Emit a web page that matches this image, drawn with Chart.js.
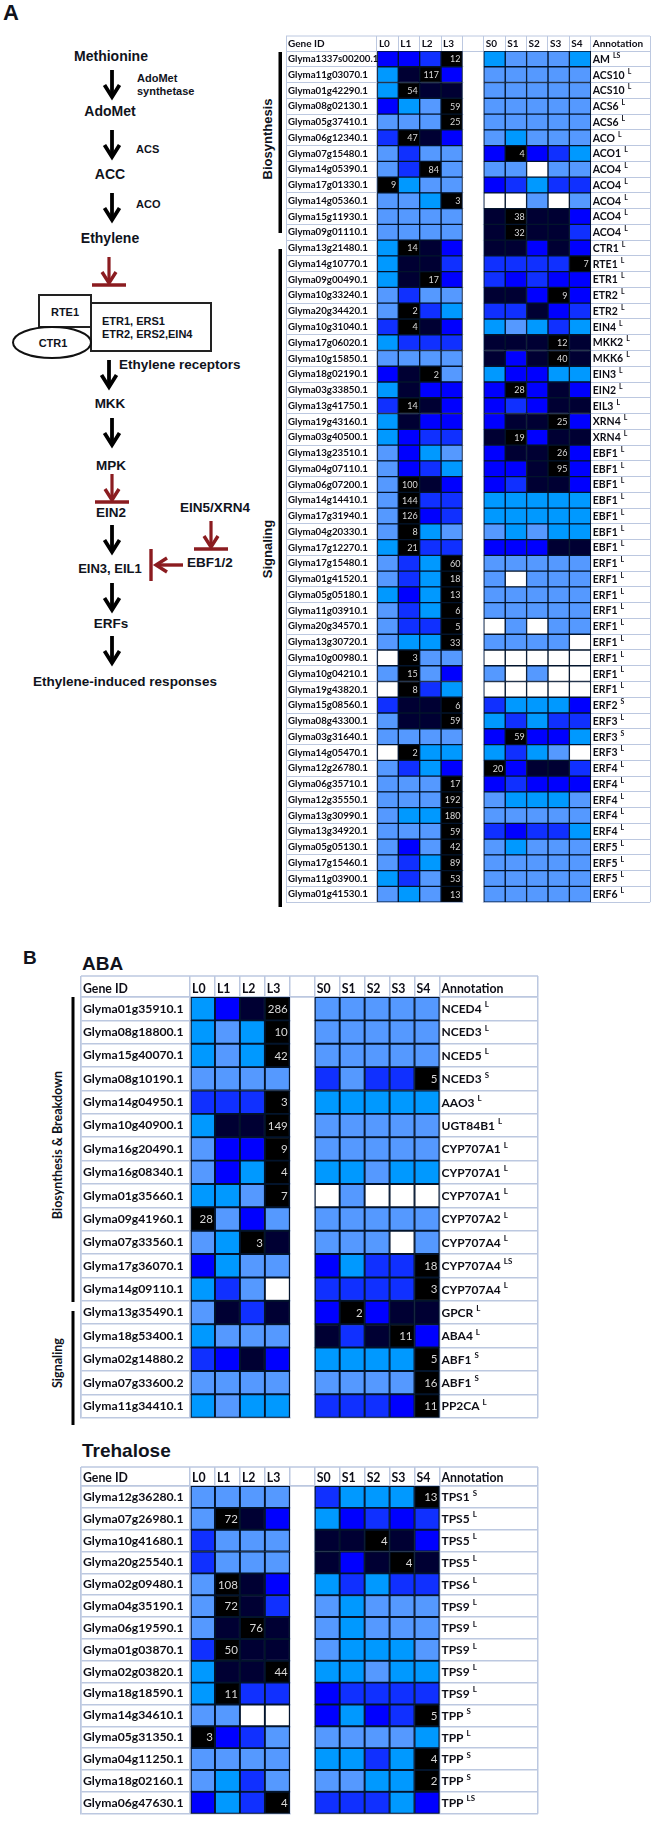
<!DOCTYPE html>
<html>
<head>
<meta charset="utf-8">
<script src="https://cdn.jsdelivr.net/npm/chart.js@4"></script>
<style>
  html, body { margin: 0; padding: 0; background: #fff; }
  body { position: relative; width: 654px; height: 1825px; overflow: hidden; }
  canvas { position: absolute; }
  svg { position: absolute; left: 0; top: 0; }
  svg text { font-family: "Liberation Sans", Arial, sans-serif; font-weight: bold; fill: #10131c; }
  svg .cal { font-family: Lato, sans-serif; }
</style>
</head>
<body>
<svg width="654" height="1825" viewBox="0 0 654 1825">
  <defs>
    <g id="down" fill="none" stroke="#000" stroke-width="3.8"><path d="M0,0V27"/><path d="M-7.5,15L0,27L7.5,15"/></g>
    <g id="block" fill="none" stroke="#8b1c20"><path d="M0,0V26" stroke-width="3.2"/><path d="M-7,15L0,26L7,15" stroke-width="3.4"/><path d="M-17,28H17" stroke-width="3.4"/></g>
  </defs>

  <text x="3" y="20" font-size="22">A</text>
  <text x="111" y="61" font-size="14" text-anchor="middle">Methionine</text>
  <use href="#down" x="112" y="70"/>
  <text x="137" y="82" font-size="11">AdoMet</text>
  <text x="137" y="95" font-size="11">synthetase</text>
  <text x="110" y="116" font-size="14" text-anchor="middle">AdoMet</text>
  <use href="#down" x="112" y="130"/>
  <text x="136" y="153" font-size="11">ACS</text>
  <text x="110" y="179" font-size="14" text-anchor="middle">ACC</text>
  <use href="#down" x="112" y="193"/>
  <text x="136" y="208" font-size="11">ACO</text>
  <text x="110" y="243" font-size="14" text-anchor="middle">Ethylene</text>
  <use href="#block" x="109" y="257"/>

  <rect x="91" y="303" width="120" height="48" fill="#fff" stroke="#222" stroke-width="2"/>
  <rect x="39" y="295" width="52" height="32" fill="#fff" stroke="#222" stroke-width="2"/>
  <ellipse cx="52" cy="342.5" rx="39" ry="15.5" fill="#fff" stroke="#111" stroke-width="2"/>
  <text x="65" y="316" font-size="11" text-anchor="middle">RTE1</text>
  <text x="53" y="347" font-size="11" text-anchor="middle">CTR1</text>
  <text x="102" y="325" font-size="11">ETR1, ERS1</text>
  <text x="102" y="338" font-size="11">ETR2, ERS2,EIN4</text>

  <use href="#down" x="109" y="360"/>
  <text x="119" y="369" font-size="13.5">Ethylene receptors</text>
  <text x="110" y="408" font-size="13.5" text-anchor="middle">MKK</text>
  <use href="#down" x="112" y="418"/>
  <text x="111" y="470" font-size="13.5" text-anchor="middle">MPK</text>
  <use href="#block" x="112" y="474"/>
  <text x="111" y="517" font-size="13.5" text-anchor="middle">EIN2</text>
  <use href="#down" x="112" y="525"/>
  <text x="110" y="573" font-size="13" text-anchor="middle">EIN3, EIL1</text>
  <use href="#down" x="112" y="583"/>
  <text x="111" y="628" font-size="13.5" text-anchor="middle">ERFs</text>
  <use href="#down" x="112" y="636"/>
  <text x="125" y="686" font-size="13.5" text-anchor="middle">Ethylene-induced responses</text>
  <text x="215" y="512" font-size="13.5" text-anchor="middle">EIN5/XRN4</text>
  <use href="#block" x="211" y="521"/>
  <text x="210" y="567" font-size="13.5" text-anchor="middle">EBF1/2</text>
  <g fill="none" stroke="#8b1c20" stroke-width="3.4">
    <path d="M183,565H156"/><path d="M167,558L156,565L167,572"/><path d="M151,549V581"/>
  </g>

  <rect x="278.5" y="52" width="3.5" height="181" fill="#000"/>
  <rect x="278.5" y="249" width="3.5" height="658" fill="#000"/>
  <text transform="translate(272,139) rotate(-90)" font-size="13" text-anchor="middle">Biosynthesis</text>
  <text transform="translate(272,549) rotate(-90)" font-size="13" text-anchor="middle">Signaling</text>

  <text x="23" y="964" font-size="19">B</text>
  <text x="82" y="970" font-size="19">ABA</text>
  <rect x="71.5" y="997" width="3" height="305" fill="#000"/>
  <rect x="71.5" y="1311" width="3" height="114" fill="#000"/>
  <text class="cal" transform="translate(62,1145) rotate(-90)" font-size="12.5" text-anchor="middle">Biosynthesis &amp; Breakdown</text>
  <text class="cal" transform="translate(62,1363) rotate(-90)" font-size="12.5" text-anchor="middle">Signaling</text>
  <text x="82" y="1457" font-size="19">Trehalose</text>
</svg>

<canvas id="panelEthylene"></canvas>
<canvas id="panelAba"></canvas>
<canvas id="panelTrehalose"></canvas>

<script>
// L0-L3, gap, S0-S4
const columnNames = ['L0', 'L1', 'L2', 'L3', '', 'S0', 'S1', 'S2', 'S3', 'S4'];

// cell shades: W not detected, a lowest ... e high, k peak of the row
const shades = { W: '#ffffff', a: '#5599ff', b: '#0099ff', c: '#1030ff', d: '#0000ff', e: '#000033', k: '#000000' };

const ethyleneGenes = [
  'Glyma1337s00200.1', 'Glyma11g03070.1', 'Glyma01g42290.1', 'Glyma08g02130.1', 'Glyma05g37410.1', 'Glyma06g12340.1',
  'Glyma07g15480.1', 'Glyma14g05390.1', 'Glyma17g01330.1', 'Glyma14g05360.1', 'Glyma15g11930.1', 'Glyma09g01110.1',
  'Glyma13g21480.1', 'Glyma14g10770.1', 'Glyma09g00490.1', 'Glyma10g33240.1', 'Glyma20g34420.1', 'Glyma10g31040.1',
  'Glyma17g06020.1', 'Glyma10g15850.1', 'Glyma18g02190.1', 'Glyma03g33850.1', 'Glyma13g41750.1', 'Glyma19g43160.1',
  'Glyma03g40500.1', 'Glyma13g23510.1', 'Glyma04g07110.1', 'Glyma06g07200.1', 'Glyma14g14410.1', 'Glyma17g31940.1',
  'Glyma04g20330.1', 'Glyma17g12270.1', 'Glyma17g15480.1', 'Glyma01g41520.1', 'Glyma05g05180.1', 'Glyma11g03910.1',
  'Glyma20g34570.1', 'Glyma13g30720.1', 'Glyma10g00980.1', 'Glyma10g04210.1', 'Glyma19g43820.1', 'Glyma15g08560.1',
  'Glyma08g43300.1', 'Glyma03g31640.1', 'Glyma14g05470.1', 'Glyma12g26780.1', 'Glyma06g35710.1', 'Glyma12g35550.1',
  'Glyma13g30990.1', 'Glyma13g34920.1', 'Glyma05g05130.1', 'Glyma17g15460.1', 'Glyma11g03900.1', 'Glyma01g41530.1'
];
const ethyleneNotes = [
  'AM LS', 'ACS10 L', 'ACS10 L', 'ACS6 L', 'ACS6 L', 'ACO L', 'ACO1 L', 'ACO4 L', 'ACO4 L', 'ACO4 L', 'ACO4 L', 'ACO4 L',
  'CTR1 L', 'RTE1 L', 'ETR1 L', 'ETR2 L', 'ETR2 L', 'EIN4 L', 'MKK2 L', 'MKK6 L', 'EIN3 L', 'EIN2 L', 'EIL3 L', 'XRN4 L',
  'XRN4 L', 'EBF1 L', 'EBF1 L', 'EBF1 L', 'EBF1 L', 'EBF1 L', 'EBF1 L', 'EBF1 L', 'ERF1 L', 'ERF1 L', 'ERF1 L', 'ERF1 L',
  'ERF1 L', 'ERF1 L', 'ERF1 L', 'ERF1 L', 'ERF1 L', 'ERF2 S', 'ERF3 L', 'ERF3 S', 'ERF3 L', 'ERF4 L', 'ERF4 L', 'ERF4 L',
  'ERF4 L', 'ERF4 L', 'ERF5 L', 'ERF5 L', 'ERF5 L', 'ERF6 L'
];
const ethyleneShades = [
  'ddck baaab', 'bekd aaaaa', 'bkee aaaaa', 'dbak aaaaa', 'aaak aaaaa', 'cked abaaa',
  'acaa dkdcb', 'acka aaWaa', 'kbaa dcbcc', 'aabk WWaWa', 'aaaa ekeed', 'aaaa ekeec',
  'bked eeded', 'beec cccck', 'bekd cdcdd', 'acaa eedkd', 'akcb ccedc', 'cked babcb',
  'bccc eeeke', 'aaaa edeke', 'deka bddbb', 'bedd dkded', 'cked dcdee', 'bedd deekd',
  'bdcc ekdee', 'adba deekd', 'adcb ddekd', 'aked dceed', 'akcc bbbbb', 'akdc bbbbb',
  'akba ababb', 'bkcc dddee', 'acbk aaaaa', 'acbk aWaaa', 'bdbk aaaaa', 'acbk aaaaa',
  'acck WaWaa', 'abbk aaaaW', 'Wkaa WWWWW', 'akad aWaWW', 'Wkcb WWWWW', 'ceek cbbbd',
  'aeek bcbcc', 'aaaa dkddb', 'Wkbb bcbaW', 'acbd kdeec', 'aaak dcddd', 'aaak abbba',
  'abbk aaaaa', 'aaak cdccb', 'adak abaaa', 'acbk aaaaa', 'bcak aaaaa', 'abak aaaaa'
];
const ethylenePeaks = [
  12, 117, 54, 59, 25, 47, 4, 84, 9, 3, 38, 32, 14, 7, 17, 9, 2, 4, 12, 40, 2, 28, 14, 25, 19, 26, 95,
  100, 144, 126, 8, 21, 60, 18, 13, 6, 5, 33, 3, 15, 8, 6, 59, 59, 2, 20, 17, 192, 180, 59, 42, 89, 53, 13
];

const abaGenes = [
  'Glyma01g35910.1', 'Glyma08g18800.1', 'Glyma15g40070.1', 'Glyma08g10190.1', 'Glyma14g04950.1', 'Glyma10g40900.1',
  'Glyma16g20490.1', 'Glyma16g08340.1', 'Glyma01g35660.1', 'Glyma09g41960.1', 'Glyma07g33560.1', 'Glyma17g36070.1',
  'Glyma14g09110.1', 'Glyma13g35490.1', 'Glyma18g53400.1', 'Glyma02g14880.2', 'Glyma07g33600.2', 'Glyma11g34410.1'
];
const abaNotes = [
  'NCED4 L', 'NCED3 L', 'NCED5 L', 'NCED3 S', 'AAO3 L', 'UGT84B1 L', 'CYP707A1 L', 'CYP707A1 L', 'CYP707A1 L',
  'CYP707A2 L', 'CYP707A4 L', 'CYP707A4 LS', 'CYP707A4 L', 'GPCR L', 'ABA4 L', 'ABF1 S', 'ABF1 S', 'PP2CA L'
];
const abaShades = [
  'bdek aaaaa', 'babk aaaaa', 'babk aaaaa', 'aaaa cacck', 'ccck bbbbb', 'beek aaaaa',
  'addk aaaaa', 'adbk bbabb', 'bbak WaWWW', 'kada aaaaa', 'abke aaaWa', 'dbaa dbcck',
  'bcaW cccck', 'aece dkdee', 'baaa ecekd', 'cded bbbbk', 'aaaa aaaak', 'babb cccdk'
];
const abaPeaks = [286, 10, 42, 5, 3, 149, 9, 4, 7, 28, 3, 18, 3, 2, 11, 5, 16, 11];

const trehaloseGenes = [
  'Glyma12g36280.1', 'Glyma07g26980.1', 'Glyma10g41680.1', 'Glyma20g25540.1', 'Glyma02g09480.1',
  'Glyma04g35190.1', 'Glyma06g19590.1', 'Glyma01g03870.1', 'Glyma02g03820.1', 'Glyma18g18590.1',
  'Glyma14g34610.1', 'Glyma05g31350.1', 'Glyma04g11250.1', 'Glyma18g02160.1', 'Glyma06g47630.1'
];
const trehaloseNotes = [
  'TPS1 S', 'TPS5 L', 'TPS5 L', 'TPS5 L', 'TPS6 L', 'TPS9 L', 'TPS9 L', 'TPS9 L', 'TPS9 L', 'TPS9 L',
  'TPP S', 'TPP L', 'TPP S', 'TPP S', 'TPP LS'
];
const trehaloseShades = [
  'aaaa cbbbk', 'aked bdcdc', 'caaa eeked', 'caaa edeke', 'aked bcbcc',
  'akec abaaa', 'aeke abaaa', 'ckee abbba', 'beek bbabb', 'bkcc dcccc',
  'aaWW dbdck', 'kdca aaaab', 'aaaa bbcbk', 'abca aabbk', 'dbck cccbd'
];
const trehalosePeaks = [13, 72, 4, 4, 108, 72, 76, 50, 44, 11, 5, 3, 4, 2, 4];

// table frame, row peak numbers and the annotation column
const cellText = {
  id: 'cellText',
  beforeDatasetsDraw(chart) {
    // no row rules in the gap between the L and S blocks
    const { ctx, chartArea, scales: { x } } = chart;
    ctx.save();
    ctx.fillStyle = '#fff';
    const gapLeft = x.getPixelForValue(4);
    ctx.fillRect(gapLeft + 1, chartArea.top + 1, x.getPixelForValue(5) - gapLeft - 2, chartArea.height + 1);
    ctx.restore();
  },
  afterDatasetsDraw(chart, args, opts) {
    const { ctx, scales: { x, y } } = chart;
    ctx.save();
    ctx.strokeStyle = '#bcc8e0';
    ctx.lineWidth = opts.rule;
    ctx.beginPath();
    ctx.moveTo(x.left, x.top);
    ctx.lineTo(x.right, x.top);
    ctx.stroke();

    ctx.textBaseline = 'middle';
    opts.rows.forEach((row, r) => {
      const py = y.getPixelForValue(r);
      ctx.textAlign = 'right';
      ctx.fillStyle = '#d8d8d8';
      ctx.font = `${opts.peakSize}px Lato`;
      ctx.fillText(opts.peaks[r], x.getPixelForValue(row.indexOf('k') + 1) - 2, py + 0.5);

      const [name, tag] = opts.notes[r].split(' ');
      const px = x.getPixelForValue(10) + 2;
      ctx.textAlign = 'left';
      ctx.fillStyle = '#0d0d16';
      ctx.font = `bold ${opts.noteSize}px Lato`;
      ctx.fillText(name, px, py + 0.5);
      const w = ctx.measureText(name).width;
      ctx.font = `bold ${opts.noteSize * 0.66}px Lato`;
      ctx.fillText(tag, px + w + 3, py - opts.noteSize * 0.32);
    });
    ctx.restore();
  }
};

function drawPanel(id, genes, notes, rows, peaks, box) {
  const canvas = document.getElementById(id);
  canvas.width = box.width;
  canvas.height = box.height;
  canvas.style.left = box.left + 'px';
  canvas.style.top = box.top + 'px';

  const datasets = [];
  columnNames.forEach((name, c) => {
    if (!name) return;
    datasets.push({
      label: name,
      data: rows.map(() => [c, c + 1]),
      backgroundColor: rows.map(row => shades[row[c]]),
      borderColor: box.cellLine,
      borderWidth: box.cellWidth,
      borderSkipped: false,
      grouped: false,
      barPercentage: 1,
      categoryPercentage: 1
    });
  });

  const edges = [box.geneCols * -1, 0, 1, 2, 3, 4, 5, 6, 7, 8, 9, 10, 10 + box.noteCols];

  new Chart(canvas, {
    type: 'bar',
    plugins: [cellText],
    data: { labels: genes, datasets },
    options: {
      indexAxis: 'y',
      responsive: false,
      animation: false,
      layout: { padding: { top: 1, right: 1, left: 1, bottom: 1 } },
      plugins: {
        legend: { display: false },
        tooltip: { enabled: false },
        cellText: { rows, peaks, notes, noteSize: box.noteSize, peakSize: box.peakSize, rule: box.rule }
      },
      scales: {
        x: {
          position: 'top',
          min: edges[0],
          max: edges[edges.length - 1],
          afterBuildTicks: s => { s.ticks = edges.map(value => ({ value })); },
          afterFit: s => { s.height = box.header; },
          border: { color: '#bcc8e0', width: box.rule },
          grid: { color: '#bcc8e0', lineWidth: box.rule, tickLength: box.header },
          ticks: {
            autoSkip: false,
            maxRotation: 0,
            align: 'start',
            labelOffset: 2,
            padding: 1 - box.header,
            color: '#0d0d16',
            font: { family: 'Lato', weight: 'bold', size: box.headSize },
            callback: (v) => v === edges[0] ? 'Gene ID' : v === 10 ? 'Annotation' : (columnNames[v] || '')
          }
        },
        y: {
          afterFit: s => { s.width = 0; },
          border: { color: '#bcc8e0', width: box.rule },
          grid: { color: '#bcc8e0', lineWidth: box.rule, drawTicks: false, offset: true },
          ticks: {
            mirror: true,
            autoSkip: false,
            padding: 2,
            color: '#0d0d16',
            font: { family: 'Lato', weight: 'bold', size: box.textSize }
          }
        }
      }
    }
  });
}

drawPanel('panelEthylene', ethyleneGenes, ethyleneNotes, ethyleneShades, ethylenePeaks, {
  left: 285, top: 35, width: 366, height: 875, header: 15, geneCols: 4.25, noteCols: 2.77,
  textSize: 9.7, noteSize: 10.5, headSize: 10, peakSize: 9, rule: 1, cellLine: '#03142c', cellWidth: 1
});
drawPanel('panelAba', abaGenes, abaNotes, abaShades, abaPeaks, {
  left: 80, top: 975, width: 459, height: 452, header: 21, geneCols: 4.37, noteCols: 3.95,
  textSize: 12.2, noteSize: 12, headSize: 12.3, peakSize: 11.5, rule: 1.5, cellLine: '#03142c', cellWidth: 1.3
});
drawPanel('panelTrehalose', trehaloseGenes, trehaloseNotes, trehaloseShades, trehalosePeaks, {
  left: 80, top: 1466, width: 459, height: 357, header: 19, geneCols: 4.37, noteCols: 3.95,
  textSize: 12.2, noteSize: 12, headSize: 12.3, peakSize: 11.5, rule: 1.5, cellLine: '#03142c', cellWidth: 1.3
});
</script>
</body>
</html>
